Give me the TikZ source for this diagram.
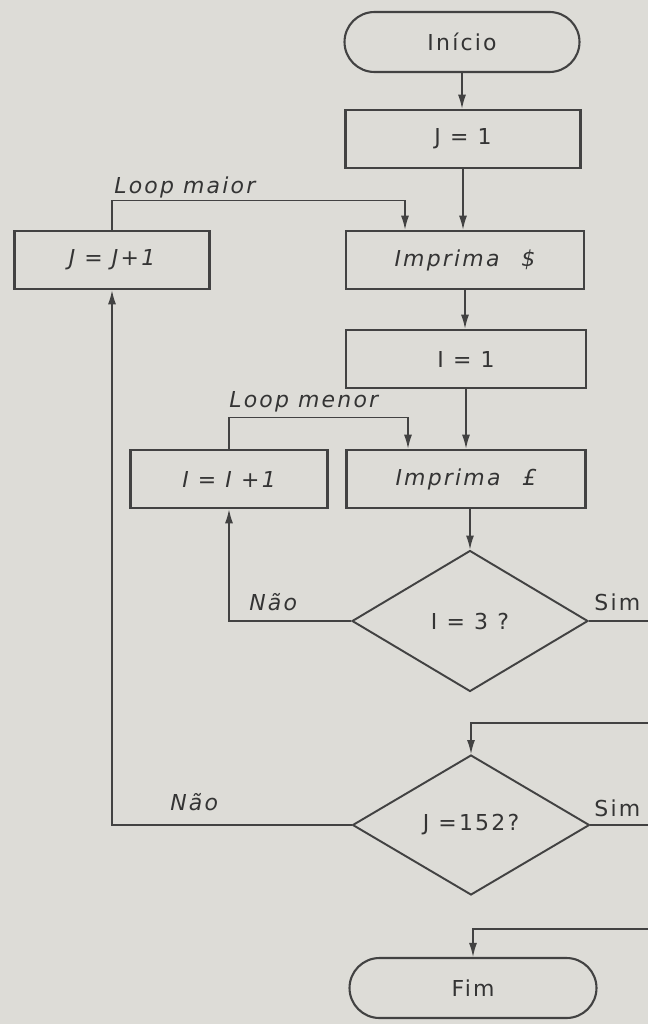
\documentclass[tikz,border=0pt]{standalone}
\usepackage{fontspec}
\setmainfont{DejaVu Sans}[LetterSpace=10]
\usetikzlibrary{arrows.meta, calc, shapes.geometric}

\definecolor{papel}{RGB}{221,220,215}
\definecolor{traco}{RGB}{66,66,66}
\definecolor{letra}{RGB}{52,52,52}

\tikzset{
  caixa/.style={draw=traco, line width=1.2pt, minimum height=1.17cm, text=letra},
  terminal/.style={caixa, rounded corners=0.6cm, minimum height=1.2cm},
  decisao/.style={diamond, draw=traco, line width=1.1pt, inner sep=0pt, text=letra},
  seta/.style={draw=traco, line width=0.8pt, -{Latex[length=2.8mm,width=1.6mm]}},
  linha/.style={draw=traco, line width=0.8pt},
  rotulo/.style={text=letra, inner sep=0pt}
}

\begin{document}
\begin{tikzpicture}[x=0.02cm, y=-0.02cm,
  every node/.append style={font=\fontsize{12.5}{15}\selectfont}]

% Paper and bounding box
\fill[papel] (0,0) rectangle (648,1024);
\useasboundingbox (0,0) rectangle (648,1024);

% Main column
\node[terminal, minimum width=4.7cm] (inicio) at (462,42) {Início};
\node[caixa, minimum width=4.7cm] (j1) at (463,139) {J = 1};
\node[caixa, minimum width=4.76cm] (imprDolar) at (465,260) {\itshape Imprima\quad\$};
\node[caixa, minimum width=4.8cm] (i1) at (466,359) {I = 1};
\node[caixa, minimum width=4.78cm] (imprLibra) at (466,479) {\itshape Imprima\quad £};
\node[decisao, minimum width=4.72cm, minimum height=2.82cm] (iTeste) at (470,621) {I = 3 ?};
\node[decisao, minimum width=4.74cm, minimum height=2.8cm] (jTeste) at (471,825) {J =152?};
\node[terminal, minimum width=4.94cm] (fim) at (473,988) {Fim};

% Counters
\node[caixa, minimum width=3.9cm] (jInc) at (112,260) {\itshape J = J+1};
\node[caixa, minimum width=3.94cm] (iInc) at (229,479) {\itshape I = I +1};

% Free ends on the right border
\coordinate (saidaI) at (648,621);
\coordinate (voltaJ) at (648,723);
\coordinate (saidaJ) at (648,825);
\coordinate (voltaFim) at (648,929);

% Entry points of the loops
\coordinate (entraDolar) at ($(imprDolar.north)+(-60,0)$);
\coordinate (entraLibra) at ($(imprLibra.north)+(-58,0)$);

% Straight flow
\draw[seta] (inicio.south) -- (inicio.south |- j1.north);
\draw[seta] (j1.south) -- (j1.south |- imprDolar.north);
\draw[seta] (imprDolar.south) -- (imprDolar.south |- i1.north);
\draw[seta] (i1.south) -- (i1.south |- imprLibra.north);
\draw[seta] (imprLibra.south -| iTeste.north) -- (iTeste.north);

% Loops
\draw[seta] (jInc.north) -- ++(0,-29) -| (entraDolar);
\draw[seta] (iInc.north) -- ++(0,-31) -| (entraLibra);
\draw[seta] (iTeste.west) -| (iInc.south);
\draw[seta] (jTeste.west) -| (jInc.south);

% Exits to the right
\draw[linha] (iTeste.east) -- (saidaI);
\draw[seta] (voltaJ) -| (jTeste.north);
\draw[linha] (jTeste.east) -- (saidaJ);
\draw[seta] (voltaFim) -| (fim.north);

% Labels
\node[rotulo, anchor=base west, font=\fontsize{12.5}{15}\selectfont\itshape] (lblMaior) at (114,193) {Loop maior};
\node[rotulo, anchor=base west, font=\fontsize{12.5}{15}\selectfont\itshape] (lblMenor) at (229,407) {Loop menor};
\node[rotulo, anchor=base west, font=\fontsize{12.5}{15}\selectfont\itshape] (naoI) at (249,610) {Não};
\node[rotulo, anchor=base west] (simI) at (594,610) {Sim};
\node[rotulo, anchor=base west, font=\fontsize{12.5}{15}\selectfont\itshape] (naoJ) at (170,810) {Não};
\node[rotulo, anchor=base west] (simJ) at (594,816) {Sim};

\end{tikzpicture}
\end{document}
